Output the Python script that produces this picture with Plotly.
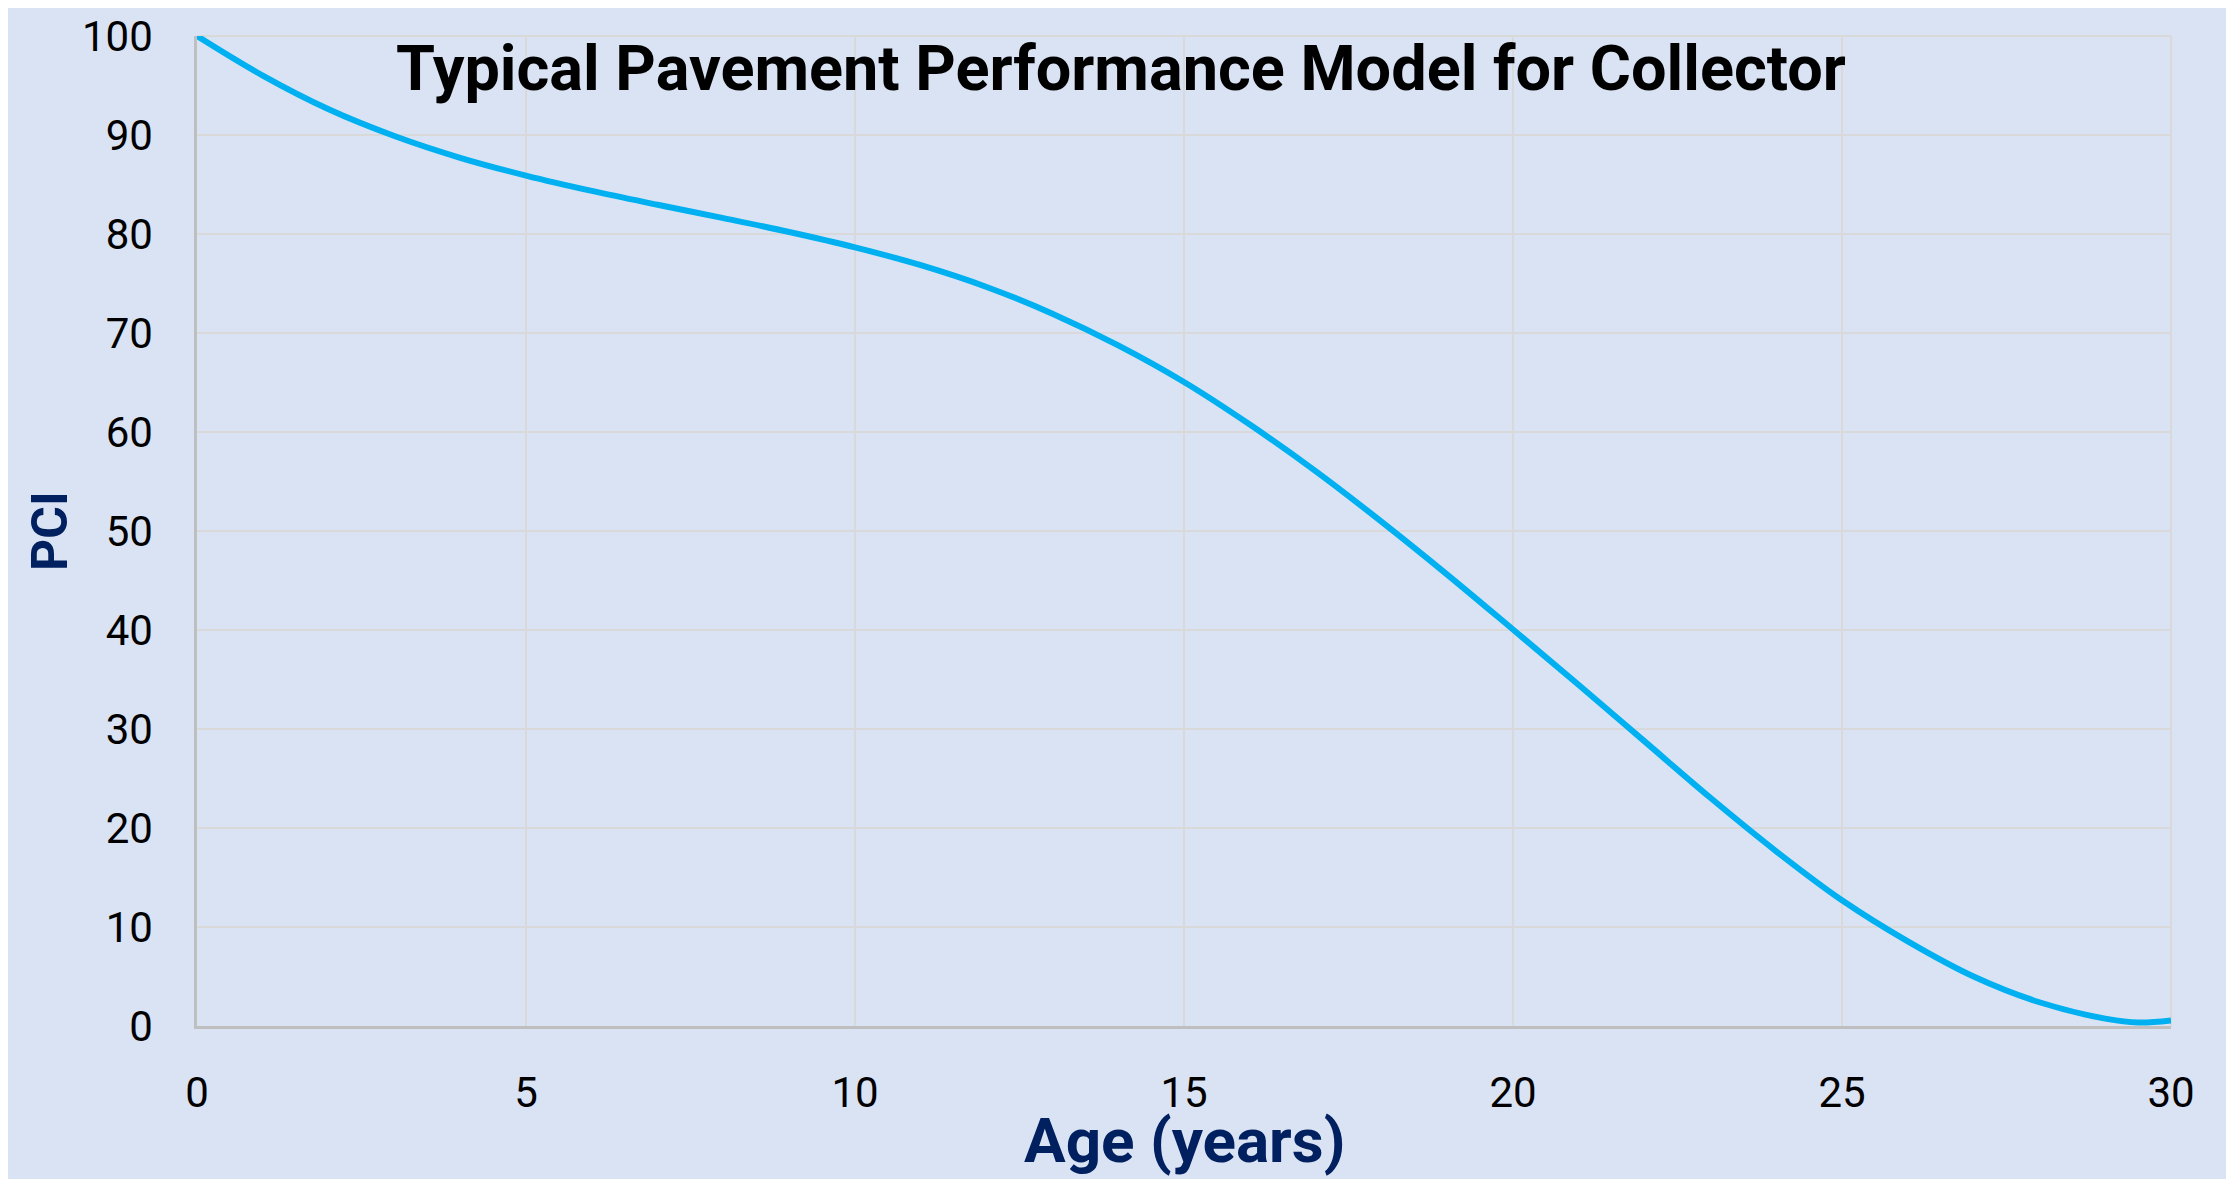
import plotly.graph_objects as go

# Data
age_years = [0, 1, 2, 3, 4, 5, 6, 7, 8, 9, 10, 11, 12, 13, 14, 15, 16, 17, 18, 19,
             20, 21, 22, 23, 24, 25, 26, 27, 28, 29, 29.5, 30]
pci_values = [100, 96.0, 92.6, 89.9, 87.7, 85.9, 84.35, 82.95, 81.6, 80.2, 78.65,
              76.85, 74.65, 71.95, 68.75, 65.05, 60.75, 56.05, 50.95, 45.6, 40.05,
              34.45, 28.75, 23.05, 17.65, 12.7, 8.55, 5.0, 2.4, 0.75, 0.35, 0.55]
x_ticks = [0, 5, 10, 15, 20, 25, 30]
y_ticks = [0, 10, 20, 30, 40, 50, 60, 70, 80, 90, 100]

title_text = "Typical Pavement Performance Model for Collector"
x_title = "Age (years)"
y_title = "PCI"

BG = "#DAE3F3"
GRID = "#D9D9D9"
AXIS = "#BFBFBF"
NAVY = "#002060"
LINE = "#00B0F0"

W, H = 2226, 1171
ML, MR, MT, MB = 189, 63, 28, 153
PW = W - ML - MR
PH = H - MT - MB

fig = go.Figure()
fig.add_trace(go.Scatter(
    x=age_years, y=pci_values, mode="lines",
    line=dict(color=LINE, width=6, shape="spline", smoothing=1.0),
    showlegend=False, hoverinfo="x+y",
))

fig.update_layout(
    width=W, height=H,
    margin=dict(l=ML, r=MR, t=MT, b=MB, pad=0, autoexpand=False),
    paper_bgcolor=BG, plot_bgcolor=BG,
    font=dict(family="Roboto", color="#000000"),
    title=dict(text=f"<b>{title_text}</b>", x=0.5, xref="container", xanchor="center",
               y=1 - 60 / H, yref="container", yanchor="middle",
               font=dict(family="Roboto", size=63, color="#000000")),
    xaxis=dict(range=[0, 30], tickvals=x_ticks, ticktext=[str(v) for v in x_ticks],
               showgrid=True, gridcolor=GRID, gridwidth=1.5,
               showline=True, linecolor=AXIS, linewidth=2.5,
               zeroline=False, ticks="", ticklabelstandoff=28, automargin=False,
               tickfont=dict(family="Roboto", size=42, color="#000000")),
    yaxis=dict(range=[0, 100], tickvals=y_ticks, ticktext=[str(v) for v in y_ticks],
               showgrid=True, gridcolor=GRID, gridwidth=1.5,
               showline=True, linecolor=AXIS, linewidth=2.5,
               zeroline=False, ticks="", ticklabelstandoff=33, automargin=False,
               tickfont=dict(family="Roboto", size=42, color="#000000")),
    annotations=[
        dict(text=f"<b>{x_title}</b>", xref="paper", yref="paper",
             x=0.5, y=-114 / PH,
             xanchor="center", yanchor="middle", showarrow=False,
             font=dict(family="Roboto", size=62, color=NAVY)),
        dict(text=f"<b>{y_title}</b>", xref="paper", yref="paper",
             x=(42 - ML) / PW, y=0.5, textangle=-90,
             xanchor="center", yanchor="middle", showarrow=False,
             font=dict(family="Roboto", size=50, color=NAVY)),
    ],
    shapes=[
        # top and right plot borders in gridline colour
        dict(type="line", xref="paper", yref="paper", x0=0, x1=1, y0=1, y1=1,
             line=dict(color=GRID, width=2), layer="below"),
        dict(type="line", xref="paper", yref="paper", x0=1, x1=1, y0=0, y1=1,
             line=dict(color=GRID, width=2), layer="below"),
    ],
)

fig.write_html("out.html")
